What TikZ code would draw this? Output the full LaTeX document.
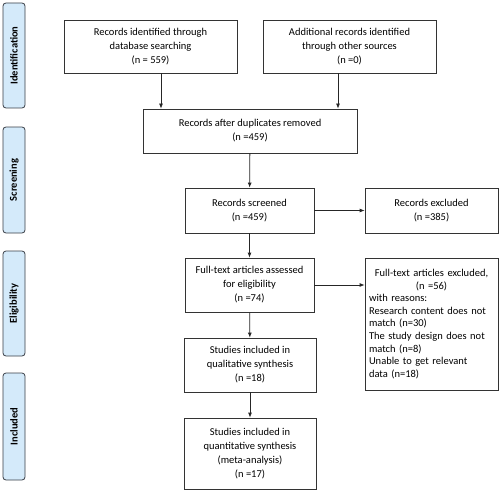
\documentclass[tikz,border=0pt]{standalone}
\usepackage{fontspec}
\setmainfont{Carlito}
\usetikzlibrary{arrows.meta}
\definecolor{sidefill}{HTML}{D4EAFA}
\definecolor{sidedraw}{HTML}{3A3F47}
\begin{document}
\begin{tikzpicture}[x=1pt,y=-1pt,
  box/.style={draw=black!80,line width=0.8pt,inner sep=2pt,align=center,font=\fontsize{10.5}{14}\selectfont},
  side/.style={draw=sidedraw,fill=sidefill,rounded corners=3pt,line width=0.8pt,inner sep=0pt},
  sidetxt/.style={rotate=90,font=\fontsize{10.5}{12}\selectfont\bfseries},
  arr/.style={-{Latex[length=5pt,width=4pt]},line width=0.8pt,black!85}]
\useasboundingbox (0,0) rectangle (500,492);
\fill[white] (0,0) rectangle (500,492);
% side bars
\draw[side] (3,3) rectangle (25,108);
\node[sidetxt] (sid) at (14,55.5) {Identification};
\draw[side] (3,127) rectangle (25,233);
\node[sidetxt] (ssc) at (14,180) {Screening};
\draw[side] (3,251) rectangle (25,356);
\node[sidetxt] (sel) at (14,303.5) {Eligibility};
\draw[side] (3,373) rectangle (25,480);
\node[sidetxt] (sin) at (14,426.5) {Included};
% boxes
\node[box,minimum width=173pt,minimum height=53pt] (db) at (150.5,46.5) {Records identified through\\database searching\\(n = 559)};
\node[box,minimum width=173pt,minimum height=53pt] (oth) at (349.5,46.5) {Additional records identified\\through other sources\\(n =0)};
\node[box,minimum width=214pt,minimum height=44pt] (dup) at (250,131) {Records after duplicates removed\\(n =459)};
\node[box,minimum width=129pt,minimum height=45pt] (scr) at (249.5,210.5) {Records screened\\(n =459)};
\node[box,minimum width=133pt,minimum height=45pt] (exc) at (431.5,210.5) {Records excluded\\(n =385)};
\node[box,minimum width=129pt,minimum height=54pt] (ft) at (249.5,285) {Full-text articles assessed\\for eligibility\\(n =74)};
\node[box,minimum width=133pt,minimum height=132pt,text width=125pt,align=left,font=\fontsize{10.5}{12.6}\selectfont] (fte) at (431.5,324) {\makebox[\linewidth][c]{Full-text articles excluded,}\\\makebox[\linewidth][c]{(n =56)}\\with reasons:\\Research content does not\\match (n=30)\\The study design does not\\match (n=8)\\Unable to get relevant\\data (n=18)};
\node[box,minimum width=132pt,minimum height=54pt] (qual) at (250,365) {Studies included in\\qualitative synthesis\\(n =18)};
\node[box,minimum width=132pt,minimum height=71pt] (quan) at (250,453.5) {Studies included in\\quantitative synthesis\\(meta-analysis)\\(n =17)};
% arrows
\draw[arr] (db.south -| 161,0) -- (dup.north -| 161,0);
\draw[arr] (oth.south -| 338,0) -- (dup.north -| 338,0);
\draw[arr] (dup) -- (scr);
\draw[arr] (scr) -- (exc);
\draw[arr] (scr) -- (ft);
\draw[arr] (ft.east) -- (fte.west |- ft.east);
\draw[arr] (ft) -- (qual);
\draw[arr] (qual) -- (quan);
\end{tikzpicture}
\end{document}
